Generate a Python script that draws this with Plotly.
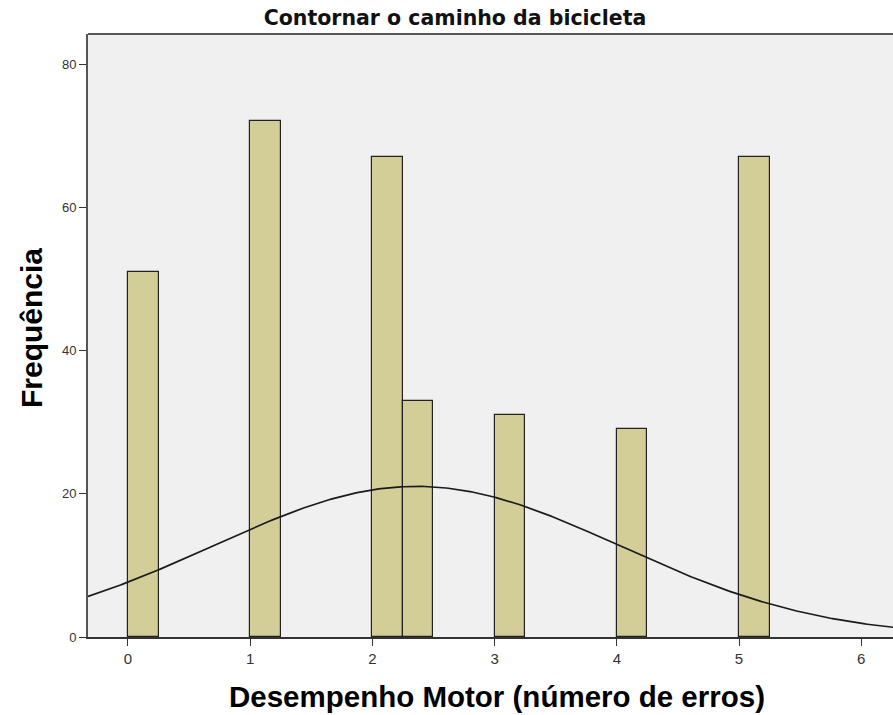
import numpy as np
import plotly.graph_objects as go

# Histogram bins (left edge) and frequencies
bin_left = [0.0, 1.0, 2.0, 2.25, 3.0, 4.0, 5.0]
bin_width = 0.25
frequencies = [51, 72, 67, 33, 31, 29, 67]

# Normal curve parameters (fitted to data)
curve_mean = 2.36
curve_sd = 1.66
n_total = sum(frequencies)

x_ticks = [0, 1, 2, 3, 4, 5, 6]
y_ticks = [0, 20, 40, 60, 80]

x_range = [-0.327, 6.26]
y_range = [0, 84.2]

xc = np.linspace(x_range[0], x_range[1] + 0.5, 400)
yc = n_total * bin_width / (curve_sd * np.sqrt(2 * np.pi)) * np.exp(-0.5 * ((xc - curve_mean) / curve_sd) ** 2)

W, H = 893, 715
L, T, R, B = 88, 34, 0, 78

fig = go.Figure()
fig.add_trace(go.Bar(
    x=bin_left, y=frequencies, width=[bin_width] * len(bin_left), offset=0,
    marker=dict(color="#d3ce98", line=dict(color="#222222", width=1.2)),
    showlegend=False,
))
fig.add_trace(go.Scatter(
    x=xc, y=yc, mode="lines", line=dict(color="#1a1a1a", width=1.7),
    showlegend=False,
))

pw = W - L - R
ph = H - T - B

fig.update_layout(
    width=W, height=H,
    margin=dict(l=L, r=R, t=T, b=B, autoexpand=False),
    paper_bgcolor="white", plot_bgcolor="#f0f0f0",
    bargap=0,
    title=dict(text="Contornar o caminho da bicicleta", x=455 / W, xanchor="center",
               y=1 - 18 / H, yanchor="middle",
               font=dict(family="DejaVu Sans", size=20.5, color="#111111", weight="bold")),
    xaxis=dict(range=x_range, tickvals=x_ticks, ticks="outside", ticklen=7, tickcolor="#333",
               automargin=False,
               showgrid=False, zeroline=False, showline=True, linecolor="#333", linewidth=2,
               tickfont=dict(family="Liberation Sans", size=15, color="#333")),
    yaxis=dict(range=y_range, tickvals=y_ticks, ticks="outside", ticklen=7, tickcolor="#333",
               automargin=False,
               showgrid=False, zeroline=False, showline=True, linecolor="#555", linewidth=2,
               tickfont=dict(family="Liberation Sans", size=13, color="#333")),
    shapes=[dict(type="line", xref="paper", yref="paper", x0=0, x1=1, y0=1, y1=1,
                 line=dict(color="#555", width=2))],
    annotations=[
        dict(text="Desempenho Motor (número de erros)", xref="paper", yref="paper",
             x=(496.5 - L) / pw, y=(H - B - 696) / ph, xanchor="center", yanchor="middle",
             showarrow=False,
             font=dict(family="Liberation Sans", size=29.5, color="#000", weight="bold")),
        dict(text="Frequência", xref="paper", yref="paper", textangle=-90,
             x=(31 - L) / pw, y=(H - B - 328) / ph, xanchor="center", yanchor="middle",
             showarrow=False,
             font=dict(family="Liberation Sans", size=30, color="#000", weight="bold")),
    ],
)

fig.write_html(
    "out.html",
    config={"displayModeBar": False},
    post_script="document.body.style.margin='0';document.body.style.overflow='hidden';"
                "document.documentElement.style.overflow='hidden';",
)
